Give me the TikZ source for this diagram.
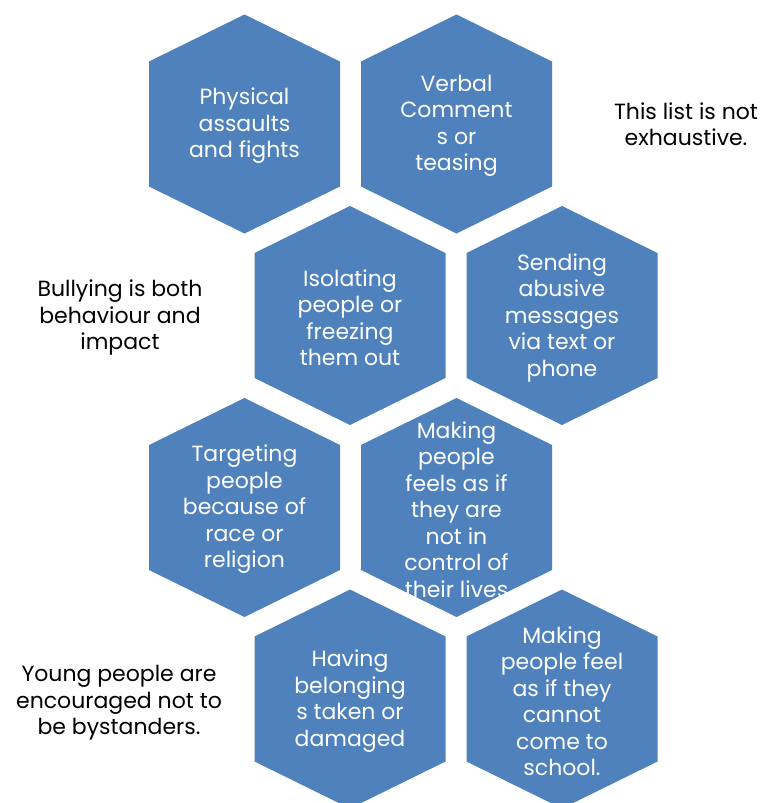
\documentclass[tikz,border=0pt]{standalone}
\usepackage{fontspec}
\setmainfont{Poppins}
\usepackage{tikz}
\usetikzlibrary{positioning}
\definecolor{HexBlue}{RGB}{79,129,189}
\tikzset{
  hexlabel/.style={align=center, text=white, inner sep=0pt, yshift=-2pt,
    font=\fontsize{22}{26.5}\selectfont},
  sidenote/.style={align=center, text=black, inner sep=0pt, yshift=-2pt,
    font=\fontsize{22}{26.5}\selectfont}
}
% one hexagon with its label: name, x, y, text
\newcommand{\hexcell}[4]{%
  \fill[HexBlue, shift={(#2,#3)}] (0,-109.5) -- (95.5,-62.5) -- (95.5,62.5)
    -- (0,109.5) -- (-95.5,62.5) -- (-95.5,-62.5) -- cycle;
  \node[hexlabel] (#1) at (#2,#3) {#4};}

\begin{document}
\begin{tikzpicture}[x=1pt, y=-1pt]
  \useasboundingbox (0,0) rectangle (760,803);
  % honeycomb, four rows
  \hexcell{physical}{244.5}{124}{Physical\\assaults\\and fights}
  \hexcell{verbal}{456.5}{124}{Verbal\\Comment\\s or\\teasing}
  \hexcell{isolating}{350}{315.5}{Isolating\\people or\\freezing\\them out}
  \hexcell{sending}{562}{315.5}{Sending\\abusive\\messages\\via text or\\phone}
  \hexcell{targeting}{244.5}{507.5}{Targeting\\people\\because of\\race or\\religion}
  \hexcell{control}{456.5}{507.5}{Making\\people\\feels as if\\they are\\not in\\control of\\their lives}
  \hexcell{belongings}{350}{699}{Having\\belonging\\s taken or\\damaged}
  \hexcell{school}{562}{699}{Making\\people feel\\as if they\\cannot\\come to\\school.}
  % notes beside the cells
  \node[sidenote] (notlist) at (686,122) {This list is not\\exhaustive.};
  \node[sidenote] (impact) at (120,315.5) {Bullying is both\\behaviour and\\impact};
  \node[sidenote] (bystand) at (119,701) {Young people are\\encouraged not to\\be bystanders.};
\end{tikzpicture}
\end{document}
